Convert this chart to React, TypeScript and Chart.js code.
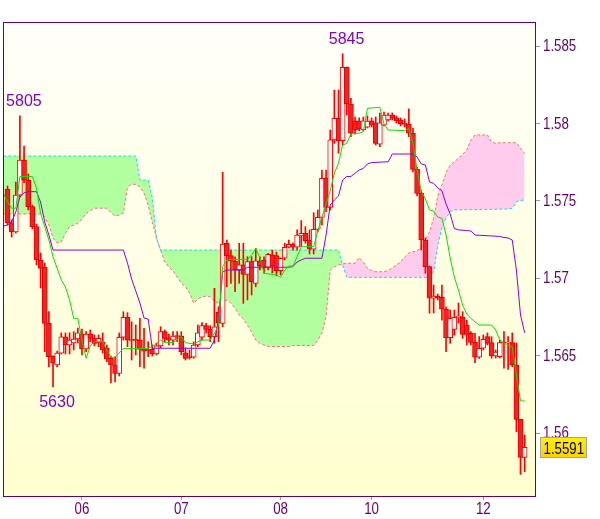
import React, { useEffect, useRef } from 'react';
import { Chart, registerables } from 'chart.js';

Chart.register(...registerables);

// ---- axis data ----
const dayLabels = ['06', '07', '08', '10', '12'];
const dayIndex = [18, 42, 66, 88, 115];
const priceTicks = [1.56, 1.565, 1.57, 1.575, 1.58, 1.585];
const priceMin = 1.555952;
const priceMax = 1.586553;

// ---- hourly candles (index 0..125) ----
const opens = [
  1.57577, 1.57358, 1.57300, 1.57538, 1.57764, 1.57635, 1.57463, 1.57334, 1.57119, 1.57072,
  1.56710, 1.56499, 1.56441, 1.56518, 1.56622, 1.56570, 1.56583, 1.56609, 1.56641, 1.56544,
  1.56641, 1.56613, 1.56585, 1.56591, 1.56549, 1.56484, 1.56441, 1.56387, 1.56620, 1.56749,
  1.56602, 1.56602, 1.56602, 1.56542, 1.56538, 1.56542, 1.56512, 1.56564, 1.56656, 1.56613,
  1.56602, 1.56628, 1.56628, 1.56520, 1.56493, 1.56491, 1.56570, 1.56620, 1.56695, 1.56671,
  1.56624, 1.56783, 1.56710, 1.57227, 1.57147, 1.57112, 1.57054, 1.57087, 1.57026, 1.57108,
  1.56968, 1.57114, 1.57119, 1.57072, 1.57151, 1.57147, 1.57050, 1.57130, 1.57201, 1.57220,
  1.57201, 1.57274, 1.57291, 1.57248, 1.57188, 1.57317, 1.57394, 1.57646, 1.57459, 1.57894,
  1.58034, 1.57889, 1.58363, 1.58126, 1.58018, 1.58016, 1.57958, 1.57977, 1.58018, 1.58005,
  1.57866, 1.57990, 1.58023, 1.58055, 1.58036, 1.58023, 1.57997, 1.57997, 1.57937, 1.57704,
  1.57549, 1.57248, 1.57076, 1.56872, 1.56886, 1.56878, 1.56801, 1.56617, 1.56671, 1.56748,
  1.56749, 1.56699, 1.56646, 1.56587, 1.56491, 1.56549, 1.56624, 1.56585, 1.56499, 1.56495,
  1.56585, 1.56583, 1.56585, 1.56441, 1.56090, 1.55845,
];
const highs = [
  1.57597, 1.57377, 1.57622, 1.58049, 1.57855, 1.57674, 1.57474, 1.57351, 1.57164, 1.57099,
  1.56785, 1.56500, 1.56531, 1.56648, 1.56648, 1.56649, 1.56656, 1.56680, 1.56673, 1.56656,
  1.56667, 1.56635, 1.56635, 1.56648, 1.56570, 1.56499, 1.56493, 1.56648, 1.56785, 1.56779,
  1.56720, 1.56699, 1.56742, 1.56678, 1.56591, 1.56570, 1.56583, 1.56688, 1.56667, 1.56641,
  1.56656, 1.56656, 1.56656, 1.56551, 1.56538, 1.56591, 1.56699, 1.56714, 1.56710, 1.56695,
  1.56936, 1.56817, 1.57685, 1.57248, 1.57183, 1.57140, 1.57227, 1.57227, 1.57140, 1.57140,
  1.57194, 1.57140, 1.57140, 1.57162, 1.57183, 1.57170, 1.57132, 1.57227, 1.57248, 1.57229,
  1.57313, 1.57373, 1.57334, 1.57313, 1.57424, 1.57442, 1.57700, 1.57700, 1.57958, 1.58216,
  1.58216, 1.58450, 1.58365, 1.58163, 1.58042, 1.58036, 1.58042, 1.58049, 1.58036, 1.58042,
  1.58068, 1.58074, 1.58068, 1.58068, 1.58049, 1.58036, 1.58029, 1.58094, 1.57971, 1.57719,
  1.57571, 1.57261, 1.57080, 1.56957, 1.56899, 1.56957, 1.56817, 1.56796, 1.56796, 1.56841,
  1.56785, 1.56731, 1.56656, 1.56646, 1.56624, 1.56635, 1.56648, 1.56624, 1.56538, 1.56602,
  1.56656, 1.56624, 1.56648, 1.56583, 1.56090, 1.55989,
];
const lows = [
  1.57345, 1.57267, 1.57293, 1.57526, 1.57616, 1.57442, 1.57319, 1.57087, 1.56938, 1.56527,
  1.56428, 1.56300, 1.56428, 1.56512, 1.56512, 1.56512, 1.56538, 1.56583, 1.56506, 1.56527,
  1.56591, 1.56564, 1.56559, 1.56518, 1.56462, 1.56325, 1.56331, 1.56370, 1.56602, 1.56559,
  1.56473, 1.56506, 1.56430, 1.56420, 1.56495, 1.56499, 1.56506, 1.56551, 1.56591, 1.56570,
  1.56570, 1.56591, 1.56506, 1.56473, 1.56478, 1.56484, 1.56559, 1.56602, 1.56646, 1.56591,
  1.56581, 1.56591, 1.56688, 1.56946, 1.56968, 1.56914, 1.56968, 1.56839, 1.56861, 1.56893,
  1.56946, 1.57054, 1.57033, 1.57054, 1.57035, 1.57016, 1.57022, 1.57119, 1.57196, 1.57183,
  1.57183, 1.57205, 1.57227, 1.57158, 1.57158, 1.57300, 1.57345, 1.57431, 1.57442, 1.57872,
  1.57808, 1.57861, 1.58055, 1.57915, 1.57932, 1.57952, 1.57952, 1.57971, 1.57977, 1.57861,
  1.57850, 1.57984, 1.58016, 1.58023, 1.58003, 1.57984, 1.57977, 1.57915, 1.57687, 1.57532,
  1.57183, 1.57033, 1.56775, 1.56777, 1.56861, 1.56731, 1.56527, 1.56581, 1.56635, 1.56712,
  1.56613, 1.56570, 1.56570, 1.56456, 1.56484, 1.56538, 1.56570, 1.56484, 1.56486, 1.56486,
  1.56420, 1.56413, 1.56430, 1.56010, 1.55735, 1.55752,
];
const closes = [
  1.57358, 1.57300, 1.57538, 1.57764, 1.57635, 1.57463, 1.57334, 1.57119, 1.57065, 1.56710,
  1.56495, 1.56452, 1.56518, 1.56622, 1.56570, 1.56602, 1.56609, 1.56648, 1.56544, 1.56641,
  1.56613, 1.56581, 1.56613, 1.56538, 1.56478, 1.56441, 1.56387, 1.56620, 1.56749, 1.56602,
  1.56599, 1.56600, 1.56542, 1.56531, 1.56534, 1.56512, 1.56564, 1.56656, 1.56613, 1.56602,
  1.56628, 1.56625, 1.56527, 1.56484, 1.56489, 1.56570, 1.56649, 1.56695, 1.56671, 1.56624,
  1.56688, 1.56712, 1.57222, 1.57147, 1.57112, 1.57054, 1.57087, 1.57026, 1.57108, 1.56979,
  1.57114, 1.57080, 1.57072, 1.57156, 1.57080, 1.57050, 1.57130, 1.57201, 1.57220, 1.57201,
  1.57280, 1.57291, 1.57243, 1.57188, 1.57317, 1.57394, 1.57646, 1.57459, 1.57894, 1.58034,
  1.57889, 1.58363, 1.58126, 1.57937, 1.57958, 1.57965, 1.58018, 1.58016, 1.57990, 1.57872,
  1.58005, 1.58055, 1.58055, 1.58034, 1.58016, 1.57997, 1.57994, 1.57937, 1.57704, 1.57549,
  1.57248, 1.57076, 1.56872, 1.56886, 1.56874, 1.56801, 1.56617, 1.56742, 1.56749, 1.56751,
  1.56639, 1.56639, 1.56587, 1.56491, 1.56549, 1.56607, 1.56581, 1.56499, 1.56525, 1.56585,
  1.56583, 1.56585, 1.56441, 1.56090, 1.55845, 1.55910,
];

// ---- Ichimoku lines, read at their vertices: [candle index, price] ----
const tenkan = [
  [-1, 1.57549], [0, 1.57495], [1, 1.57453], [2, 1.57453], [3, 1.57658], [6, 1.57658], [7, 1.57584],
  [8, 1.57420], [10, 1.57248], [11, 1.57140], [13, 1.56990], [14, 1.56945], [15, 1.56861], [16, 1.56742],
  [17, 1.56742], [18, 1.56602], [19, 1.56484], [20, 1.56564], [21, 1.56591], [23, 1.56591], [24, 1.56538],
  [25, 1.56491], [26, 1.56491], [28, 1.56547], [34, 1.56547], [36, 1.56577], [37, 1.56602], [38, 1.56585],
  [40, 1.56585], [42, 1.56624], [43, 1.56585], [45, 1.56577], [46, 1.56591], [47, 1.56602], [49, 1.56602],
  [50, 1.56646], [51, 1.56699], [52, 1.57076], [53, 1.57119], [55, 1.57123], [58, 1.57123], [59, 1.57151],
  [60, 1.57194], [61, 1.57132], [62, 1.57033], [65, 1.57022], [66, 1.57007], [67, 1.57054], [68, 1.57080],
  [69, 1.57080], [70, 1.57140], [71, 1.57205], [74, 1.57205], [75, 1.57306], [76, 1.57396], [78, 1.57564],
  [79, 1.57679], [80, 1.57743], [81, 1.57861], [82, 1.57872], [83, 1.57932], [85, 1.57937], [86, 1.57947],
  [87, 1.58098], [90, 1.58105], [91, 1.57997], [92, 1.57958], [96, 1.57954], [97, 1.57969], [98, 1.57868],
  [99, 1.57700], [100, 1.57564], [101, 1.57513], [102, 1.57442], [103, 1.57435], [104, 1.57396], [105, 1.57388],
  [106, 1.57280], [107, 1.57132], [108, 1.57009], [109, 1.56925], [110, 1.56828], [111, 1.56770], [112, 1.56742],
  [113, 1.56719], [114, 1.56699], [117, 1.56699], [118, 1.56667], [119, 1.56602], [120, 1.56583], [121, 1.56570],
  [122, 1.56557], [123, 1.56376], [124, 1.56209], [125, 1.56209],
];
const kijun = [
  [-1, 1.57338], [0, 1.57345], [1, 1.57364], [2, 1.57429], [3, 1.57526], [4, 1.57553], [5, 1.57560], [7, 1.57560],
  [8, 1.57493], [9, 1.57364], [10, 1.57280], [11, 1.57183], [28, 1.57183], [29, 1.57099], [30, 1.56996],
  [31, 1.56919], [32, 1.56841], [33, 1.56744], [34, 1.56738], [35, 1.56549], [49, 1.56549], [50, 1.56602],
  [51, 1.56731], [52, 1.57041], [53, 1.57054], [57, 1.57054], [58, 1.57072], [68, 1.57072], [69, 1.57076],
  [70, 1.57106], [71, 1.57119], [72, 1.57130], [76, 1.57130], [77, 1.57280], [78, 1.57474], [79, 1.57506],
  [80, 1.57532], [81, 1.57635], [82, 1.57658], [83, 1.57658], [84, 1.57679], [85, 1.57700], [86, 1.57710],
  [87, 1.57739], [88, 1.57748], [92, 1.57753], [93, 1.57803], [98, 1.57803], [99, 1.57784], [100, 1.57739],
  [101, 1.57732], [102, 1.57622], [103, 1.57614], [104, 1.57584], [105, 1.57566], [106, 1.57480], [107, 1.57416],
  [108, 1.57322], [109, 1.57313], [111, 1.57309], [112, 1.57306], [113, 1.57280], [119, 1.57271], [120, 1.57264],
  [121, 1.57261], [122, 1.57248], [123, 1.57054], [124, 1.56764], [125, 1.56649],
];
const senkouA = [
  [-1, 1.57790], [31, 1.57790], [32, 1.57635], [34, 1.57635], [35, 1.57519], [36, 1.57261], [37, 1.57183],
  [80, 1.57183], [81, 1.57087], [82, 1.57007], [102, 1.57007], [103, 1.57041], [104, 1.57216], [105, 1.57325],
  [106, 1.57390], [107, 1.57431], [108, 1.57442], [121, 1.57448], [122, 1.57453], [123, 1.57495], [124, 1.57503],
  [125, 1.57506],
];
const senkouB = [
  [-1, 1.57416], [8, 1.57416], [9, 1.57398], [10, 1.57345], [11, 1.57261], [12, 1.57229], [13, 1.57235],
  [14, 1.57293], [15, 1.57334], [16, 1.57345], [17, 1.57356], [18, 1.57384], [19, 1.57420], [20, 1.57438],
  [21, 1.57453], [24, 1.57453], [25, 1.57425], [26, 1.57403], [27, 1.57409], [28, 1.57422], [29, 1.57590],
  [30, 1.57609], [31, 1.57606], [32, 1.57592], [33, 1.57551], [34, 1.57474], [35, 1.57364], [36, 1.57261],
  [37, 1.57183], [38, 1.57106], [39, 1.57074], [40, 1.57048], [41, 1.57009], [42, 1.56970], [43, 1.56946],
  [44, 1.56906], [45, 1.56839], [46, 1.56867], [47, 1.56880], [48, 1.56886], [49, 1.56882], [50, 1.56854],
  [51, 1.56839], [52, 1.56850], [53, 1.56861], [54, 1.56841], [55, 1.56807], [56, 1.56764], [57, 1.56738],
  [58, 1.56699], [59, 1.56654], [60, 1.56602], [61, 1.56581], [62, 1.56570], [63, 1.56560], [68, 1.56560],
  [69, 1.56567], [74, 1.56567], [75, 1.56602], [76, 1.56648], [77, 1.56757], [78, 1.57054], [79, 1.57074],
  [80, 1.57087], [81, 1.57093], [82, 1.57098], [84, 1.57098], [85, 1.57134], [86, 1.57106], [87, 1.57064],
  [88, 1.57051], [89, 1.57043], [91, 1.57043], [92, 1.57051], [93, 1.57067], [94, 1.57087], [95, 1.57106],
  [96, 1.57138], [97, 1.57164], [98, 1.57172], [99, 1.57177], [100, 1.57206], [101, 1.57248], [102, 1.57300],
  [103, 1.57390], [104, 1.57532], [105, 1.57603], [106, 1.57681], [107, 1.57732], [108, 1.57752], [109, 1.57777],
  [110, 1.57800], [111, 1.57829], [112, 1.57894], [113, 1.57926], [116, 1.57926], [117, 1.57881], [118, 1.57871],
  [119, 1.57876], [123, 1.57876], [124, 1.57840], [125, 1.57806],
];

// ---- annotations ----
const extremeIdx = [3, 11, 81];
const extremeText = ['5805', '5630', '5845'];
const extremeIsHigh = [true, false, true];
const lastPrice = 1.5591;

const SANS = "'Liberation Sans', Arial, sans-serif";
const AXIS_COLOR = '#660066';
const NARROW_SCALE = 0.83;

const priceLabel = (v: number) => String(Number(v.toFixed(3)));

function narrowText(ctx: any, text: string, x: number, y: number, align: string) {
  ctx.save();
  ctx.translate(x, y);
  ctx.scale(NARROW_SCALE, 1);
  ctx.textAlign = align;
  ctx.fillText(text, 0, 0);
  ctx.restore();
}

const decorPlugin: any = {
  id: 'ichiDecor',
  beforeDraw(chart: any) {
    const { ctx, chartArea: a } = chart;
    const g = ctx.createLinearGradient(0, a.top, 0, a.bottom);
    g.addColorStop(0, '#FFFFFA');
    g.addColorStop(1, '#FFFFCF');
    ctx.save();
    ctx.fillStyle = g;
    ctx.fillRect(a.left, a.top, a.right - a.left, a.bottom - a.top);
    ctx.restore();
  },
  afterDatasetsDraw(chart: any) {
    const { ctx, chartArea: a } = chart;
    ctx.save();
    ctx.strokeStyle = AXIS_COLOR;
    ctx.lineWidth = 1;
    ctx.strokeRect(a.left + 0.5, a.top + 0.5, a.right - a.left, a.bottom - a.top);
    ctx.restore();
  },
  afterDraw(chart: any) {
    const { ctx, chartArea: a } = chart;
    const xs = chart.scales.x;
    const ys = chart.scales.y;
    ctx.save();

    // axis labels (narrow face)
    ctx.font = '16px ' + SANS;
    ctx.fillStyle = AXIS_COLOR;
    ctx.textBaseline = 'alphabetic';
    priceTicks.forEach((v) => {
      narrowText(ctx, priceLabel(v), a.right + 8, ys.getPixelForValue(v) + 5, 'left');
    });
    dayIndex.forEach((d, k) => {
      narrowText(ctx, dayLabels[k], xs.getPixelForValue(d), a.bottom + 18, 'center');
    });

    // high / low annotations
    ctx.font = '16px ' + SANS;
    ctx.fillStyle = '#8000CC';
    ctx.textAlign = 'center';
    ctx.textBaseline = 'alphabetic';
    extremeIdx.forEach((idx, k) => {
      const x = xs.getPixelForValue(idx) + 4;
      const y = extremeIsHigh[k]
        ? ys.getPixelForValue(highs[idx]) - 10
        : ys.getPixelForValue(lows[idx]) + 20;
      ctx.fillText(extremeText[k], x, y);
    });

    // last price box
    const py = ys.getPixelForValue(lastPrice);
    const bx = a.right + 5.5;
    const bw = 46;
    const bh = 20;
    const by = Math.round(py - bh / 2) + 0.5;
    const g = ctx.createLinearGradient(0, by, 0, by + bh);
    g.addColorStop(0, '#FFF000');
    g.addColorStop(1, '#FFD200');
    ctx.fillStyle = g;
    ctx.fillRect(bx, by, bw, bh);
    ctx.strokeStyle = '#9FA4AA';
    ctx.lineWidth = 1;
    ctx.strokeRect(bx, by, bw, bh);
    ctx.fillStyle = '#000000';
    ctx.font = '16px ' + SANS;
    ctx.textBaseline = 'alphabetic';
    narrowText(ctx, lastPrice.toFixed(4), bx + 3, by + bh / 2 + 6, 'left');
    ctx.restore();
  },
};

const toPoints = (arr: number[][]) => arr.map(([x, y]) => ({ x, y }));

export default function App() {
  const ref = useRef<HTMLCanvasElement | null>(null);

  useEffect(() => {
    if (!ref.current) return;
    const idx = opens.map((_, i) => i);
    const isUp = idx.map((i) => closes[i] >= opens[i]);

    const chart = new Chart(ref.current, {
      type: 'bar',
      data: {
        datasets: [
          {
            type: 'line',
            label: 'Senkou A',
            data: toPoints(senkouA),
            borderColor: '#22D8F0',
            borderWidth: 1,
            borderDash: [3, 2],
            pointRadius: 0,
            tension: 0,
            fill: { target: '+1', above: 'rgb(178,255,160)', below: 'rgb(255,204,238)' },
            order: 5,
          },
          {
            type: 'line',
            label: 'Senkou B',
            data: toPoints(senkouB),
            borderColor: '#F87474',
            borderWidth: 1,
            borderDash: [3, 2],
            pointRadius: 0,
            tension: 0,
            fill: false,
            order: 6,
          },
          {
            type: 'bar',
            label: 'wick',
            data: idx.map((i) => ({ x: i, y: [lows[i], highs[i]] })),
            backgroundColor: '#FF0000',
            borderWidth: 0,
            barThickness: 1,
            grouped: false,
            order: 4,
          },
          {
            type: 'bar',
            label: 'body',
            data: idx.map((i) => ({ x: i, y: [opens[i], closes[i]] })),
            backgroundColor: isUp.map((u) => (u ? '#FFFFFF' : '#FF1E1E')),
            borderColor: isUp.map((u) => (u ? '#FF0000' : '#E00000')),
            borderWidth: 1,
            borderSkipped: false,
            barThickness: 5,
            minBarLength: 1,
            grouped: false,
            order: 3,
          },
          {
            type: 'line',
            label: 'Kijun',
            data: toPoints(kijun),
            borderColor: '#9400D3',
            borderWidth: 1,
            pointRadius: 0,
            tension: 0,
            fill: false,
            order: 2,
          },
          {
            type: 'line',
            label: 'Tenkan',
            data: toPoints(tenkan),
            borderColor: '#10DD00',
            borderWidth: 1,
            pointRadius: 0,
            tension: 0,
            fill: false,
            order: 1,
          },
        ] as any,
      },
      options: {
        animation: false,
        responsive: false,
        maintainAspectRatio: false,
        devicePixelRatio: 1,
        layout: { padding: { left: 3, top: 22, right: 0, bottom: 0 } },
        plugins: {
          legend: { display: false },
          title: { display: false },
          tooltip: { enabled: false },
          filler: { drawTime: 'beforeDatasetsDraw' },
        } as any,
        events: [],
        scales: {
          x: {
            type: 'linear',
            min: -1.09,
            max: 127.5,
            offset: false,
            grid: {
              display: true,
              drawOnChartArea: false,
              drawTicks: true,
              tickLength: 4,
              color: '#999999',
              tickColor: '#999999',
              offset: false,
            },
            border: { display: true, color: AXIS_COLOR, width: 1 },
            afterBuildTicks: (s: any) => {
              s.ticks = dayIndex.map((v) => ({ value: v }));
            },
            afterFit: (s: any) => {
              s.height = 23;
            },
            ticks: { display: false, autoSkip: false, maxRotation: 0, minRotation: 0 },
          },
          y: {
            type: 'linear',
            position: 'right',
            min: priceMin,
            max: priceMax,
            grid: {
              display: true,
              drawOnChartArea: false,
              drawTicks: true,
              tickLength: 5,
              color: '#999999',
              tickColor: '#999999',
            },
            border: { display: true, color: AXIS_COLOR, width: 1 },
            afterBuildTicks: (s: any) => {
              s.ticks = priceTicks.map((v) => ({ value: v }));
            },
            afterFit: (s: any) => {
              s.width = 65;
            },
            ticks: { display: false },
          },
        },
      } as any,
      plugins: [decorPlugin],
    });

    return () => chart.destroy();
  }, []);

  return (
    <div style={{ position: 'absolute', left: 0, top: 0, width: 600, height: 519, background: '#FFFFFF' }}>
      <canvas ref={ref} width={600} height={519} style={{ display: 'block', width: 600, height: 519 }} />
    </div>
  );
}
